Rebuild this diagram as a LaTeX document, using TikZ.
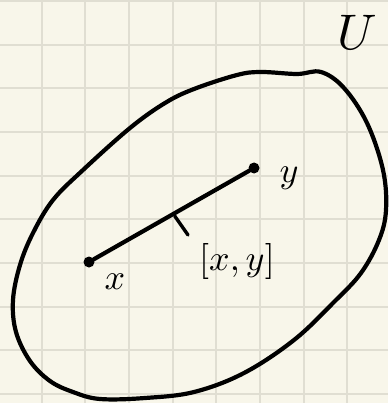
\documentclass[tikz,border=0pt]{standalone}
\usepackage{xcolor}
\usetikzlibrary{calc}
\definecolor{paper}{HTML}{F8F6EA}
\definecolor{gridc}{HTML}{E0DED2}
\tikzset{
    ink/.style={line width=4.2pt, line cap=round, line join=round},
    endpt/.style={circle, fill=black, inner sep=0pt, minimum size=11pt},
    lbl/.style={scale=3.6},
}
\begin{document}
\begin{tikzpicture}[x=1pt, y=-1pt]
    \useasboundingbox (0,0) rectangle (388,403);
    \fill[paper] (0,0) rectangle (388,403);

    % 方格纸
    \foreach \i in {0,...,7}
        \draw[gridc, line width=1.8pt] ({41.7+43.67*\i}, 0) -- ({41.7+43.67*\i}, 403);
    \foreach \j in {0,...,9}
        \draw[gridc, line width=1.8pt] (0, {1+43.67*\j}) -- (388, {1+43.67*\j});

    % 集合 U
    \draw[ink] plot[smooth cycle, tension=0.6] coordinates {
        (194,89) (237,75) (261,72) (297,74) (321,72) (344,88) (367,123)
        (383,170) (386,210) (379,240) (361,273) (334,302) (294,340)
        (244,373) (194,392) (145,398) (100,399) (73,392) (50,381)
        (30,361) (16,332) (13,300) (20,265) (33,233) (53,200) (83,170)
        (130,128) (165,103)};
    \node[scale=5] (U) at (357,32) {$U$};

    % 线段 [x,y]
    \node[endpt] (px) at (89,262) {};
    \node[endpt] (py) at (254,168) {};
    \draw[ink] (px) -- (py);
    \node[lbl] (lx) at (115,282) {$x$};
    \node[lbl] (ly) at (289,178) {$y$};

    \coordinate (tk) at ($(px)!0.52!(py)$);
    \node[lbl] (seg) at (237,261) {$[x,y]$};
    \coordinate (tkend) at (188,235);
    \draw[ink, line width=3.4pt] (tk) ++(0,3) -- (tkend);
\end{tikzpicture}
\end{document}
